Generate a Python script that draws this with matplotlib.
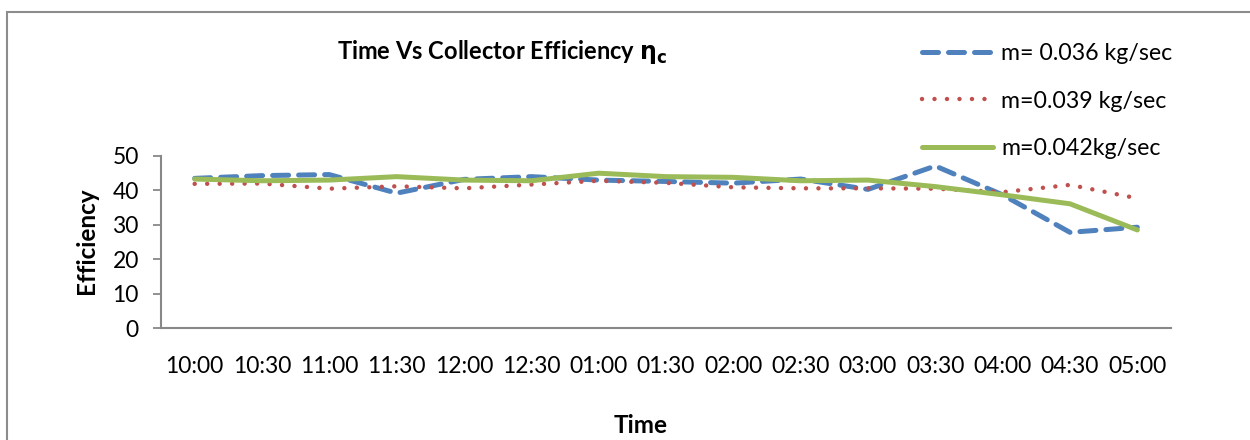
"""Time vs collector efficiency for three mass flow rates."""
import matplotlib
matplotlib.use('Agg')
import matplotlib.pyplot as plt
from matplotlib.patches import Rectangle

plt.rcParams['font.family'] = ['Lato', 'DejaVu Sans']

# Data
times = ['10:00', '10:30', '11:00', '11:30', '12:00', '12:30', '01:00', '01:30',
         '02:00', '02:30', '03:00', '03:30', '04:00', '04:30', '05:00']
eff_036 = [43.5, 44.3, 44.6, 39.2, 43.2, 44.0, 43.0, 42.6,
           42.1, 43.3, 40.3, 47.1, 38.7, 27.8, 29.3]
eff_039 = [41.9, 42.0, 40.5, 41.2, 40.6, 41.7, 42.8, 42.2,
           40.9, 40.6, 40.6, 40.5, 39.5, 41.6, 37.7]
eff_042 = [43.3, 42.8, 43.0, 44.0, 43.0, 42.8, 45.0, 44.0,
           43.8, 42.8, 43.0, 41.1, 38.7, 36.1, 28.5]
labels = ['m= 0.036 kg/sec', 'm=0.039 kg/sec', 'm=0.042kg/sec']

W, H = 1250, 440
fig = plt.figure(figsize=(W / 100, H / 100), dpi=100)
ax = fig.add_axes([161 / W, 1 - 328 / H, (1171 - 161) / W, (328 - 156) / H])

x = list(range(len(times)))
ax.plot(x, eff_036, color='#4F81BD', linewidth=3.6, dashes=(3.2, 2.0),
        dash_capstyle='round', label=labels[0])
ax.plot(x, eff_039, color='#C0504D', linewidth=3.2, dashes=(0.01, 2.8),
        dash_capstyle='round', label=labels[1])
ax.plot(x, eff_042, color='#9BBB59', linewidth=3.6, solid_capstyle='round',
        label=labels[2])

ax.set_xlim(-0.5, len(times) - 0.5)
ax.set_ylim(0, 50)
ax.set_yticks([0, 10, 20, 30, 40, 50])
ax.set_xticks(x)
ax.set_xticklabels(times)
ax.tick_params(axis='x', length=0, pad=20, labelsize=16.5)
ax.tick_params(axis='y', length=6, width=1.3, color='#888888', pad=10, labelsize=16.5)

for side in ['top', 'right']:
    ax.spines[side].set_visible(False)
for side in ['left', 'bottom']:
    ax.spines[side].set_color('#888888')
    ax.spines[side].set_linewidth(1.5)

fig.text(502 / W, 1 - 52 / H, r'Time Vs Collector Efficiency $\mathbf{\eta_c}$',
         ha='center', va='center', fontsize=17, fontweight='bold')
fig.text(86 / W, 1 - 241 / H, 'Efficiency', rotation=90, ha='center', va='center',
         fontsize=17.5, fontweight='bold')
fig.text(641 / W, 1 - 425 / H, 'Time', ha='center', va='center',
         fontsize=17.5, fontweight='bold')

ax.legend(loc='upper left', bbox_to_anchor=(901 / W, 1 - 22 / H),
          bbox_transform=fig.transFigure, frameon=False, fontsize=16.7,
          handlelength=3.06, handletextpad=0.35, labelspacing=1.15)

# chart area border
fig.add_artist(Rectangle((7 / W, -0.1), 1.2, 1.1 - 12 / H, transform=fig.transFigure,
                         fill=False, edgecolor='#8C8C8C', linewidth=1.5))

plt.savefig('out.png', dpi=100, facecolor='white')
